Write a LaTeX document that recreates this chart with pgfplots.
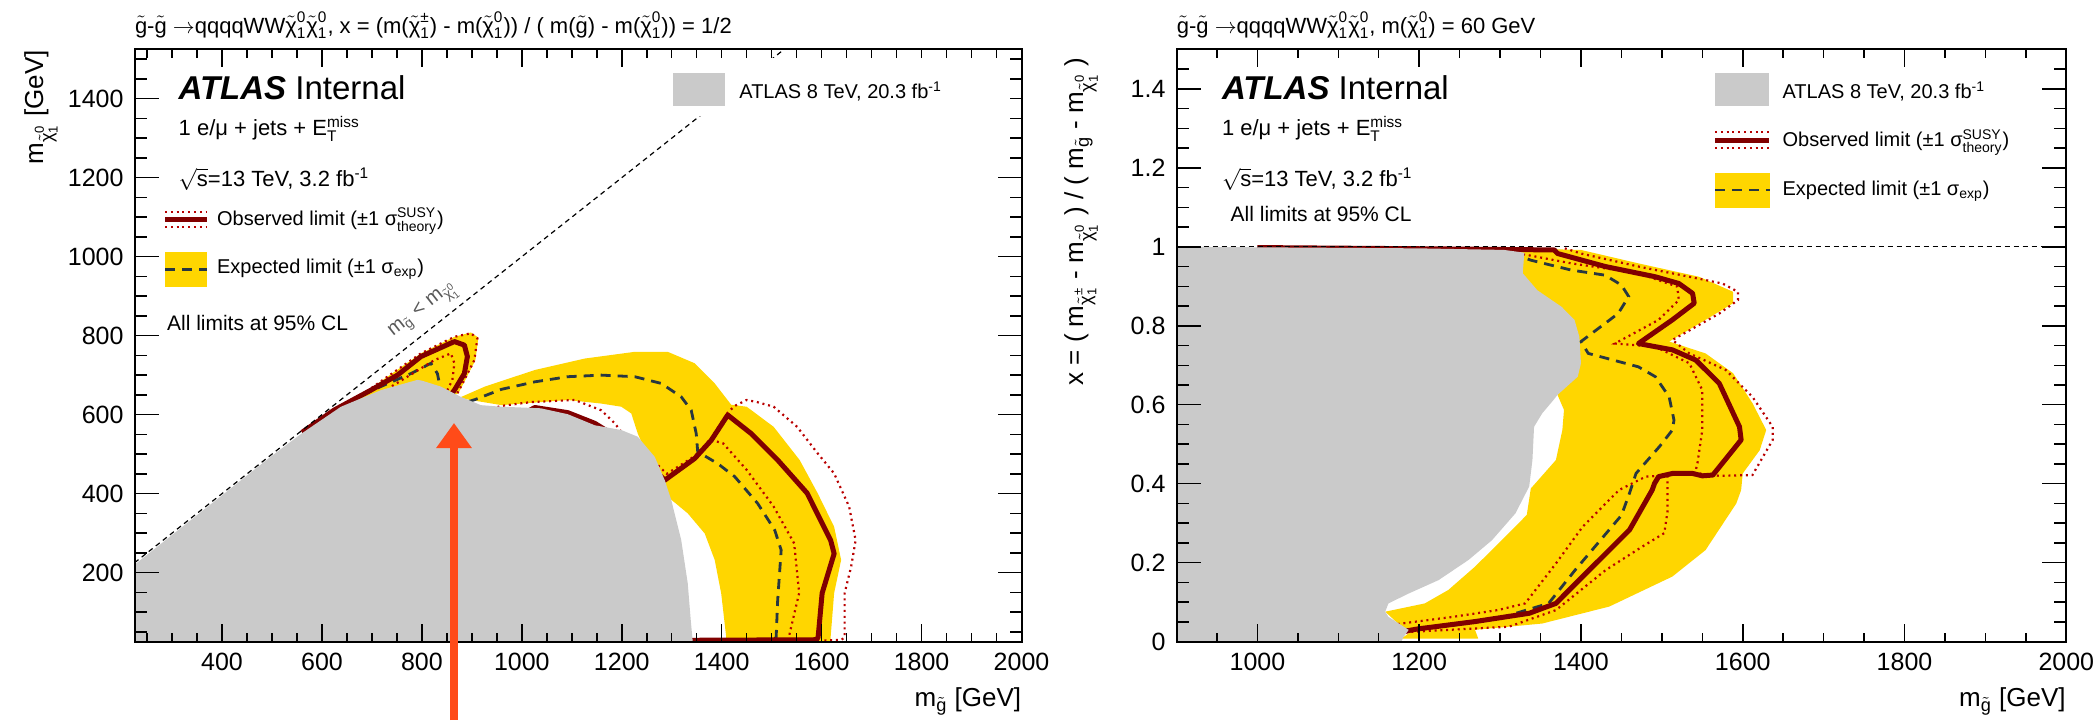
\documentclass[border=0pt]{standalone}
\usepackage{fontspec}
\setmainfont{Liberation Sans}
\usepackage{amsmath}
\usepackage{pgfplots}
\pgfplotsset{compat=1.18}
\usetikzlibrary{arrows.meta}

\definecolor{ygold}{RGB}{255,214,0}
\definecolor{gbox}{RGB}{202,202,202}
\definecolor{obsred}{RGB}{128,0,0}
\definecolor{dotred}{RGB}{185,0,0}
\definecolor{expd}{RGB}{40,55,65}
\definecolor{arrowc}{RGB}{255,75,25}

\newcommand{\gl}{\ensuremath{\tilde{\text{g}}}}
\newcommand{\chiz}{\ensuremath{\tilde{\text{χ}}^{\text{0}}_{\text{1}}}}
\newcommand{\chipm}{\ensuremath{\tilde{\text{χ}}^{\text{±}}_{\text{1}}}}
\newcommand{\mchiz}{m\ensuremath{_{\tilde{\text{χ}}^{\text{0}}_{\text{1}}}}}
\newcommand{\mchipm}{m\ensuremath{_{\tilde{\text{χ}}^{\text{±}}_{\text{1}}}}}
\newcommand{\mgl}{m\ensuremath{_{\tilde{\text{g}}}}}

\tikzset{
  obsl/.style={line width=2.5pt, obsred, line join=round},
  dotl/.style={line width=1.1pt, dotred, dash pattern=on 1pt off 1.9pt},
  expl/.style={line width=1.4pt, expd, dash pattern=on 5pt off 3.5pt},
}
\pgfplotsset{
  myax/.style={scale only axis, anchor=south west, axis on top, no markers,
    tick align=inside,
    major tick length=12pt, minor tick length=6pt,
    xtick style={/pgfplots/major tick length=9pt,/pgfplots/minor tick length=4.5pt},
    tick style={black, line width=0.75pt},
    axis line style={line width=1pt},
    ticklabel style={font=\fontsize{12.5}{14}\selectfont},
    /pgf/number format/assume math mode=true,
    /pgf/number format/1000 sep={},
    xticklabel style={yshift=-2pt},
    yticklabel style={xshift=-2pt},
  }
}

\begin{document}
\begin{tikzpicture}
\useasboundingbox (0,0) rectangle (1048.5pt,360pt);

% ---------------- left panel ----------------
\begin{axis}[myax, at={(67.3pt,39.15pt)}, width=443.45pt, height=296.2pt,
  xmin=225, xmax=2000, ymin=25, ymax=1525,
  xtick={400,600,...,2000}, ytick={200,400,...,1400},
  minor xtick={250,300,...,2000}, minor ytick={50,100,...,1500}]
% expected band
\addplot[fill=ygold, draw=none] coordinates {(600,590) (625,612) (665,637) (731,696) (798,755) (865,797) (898,808) (913,795) (907,738) (887,688) (873,654) (850,640)} -- cycle;
\addplot[fill=ygold, draw=none] coordinates {(860,630) (879,645) (926,671) (1026,713) (1126,742) (1226,759) (1292,759) (1346,730) (1386,679) (1419,625) (1450,620) (1504,569) (1556,485) (1592,401) (1625,316) (1639,232) (1625,148) (1618,37) (1618,25) (1409,25) (1409,37) (1399,147) (1386,232) (1366,299) (1332,350) (1292,392) (1270,450) (1250,500) (1232,552) (1219,603) (1199,620) (1159,628) (1092,637) (959,624) (879,641)} -- cycle;
% expected
\addplot[expl] coordinates {(680,650) (725,675) (778,704) (818,730) (831,704) (835,679) (833,665)};
\addplot[expl] coordinates {(860,620) (906,638) (959,664) (1026,683) (1092,696) (1159,700) (1226,696) (1279,679) (1319,645) (1339,611) (1349,552) (1352,506) (1392,476) (1426,443) (1472,375) (1506,308) (1519,257) (1512,130) (1509,37) (1505,30) (1340,28)};
% observed +-1 sigma
\addplot[dotl] coordinates {(600,592) (631,612) (665,637) (731,696) (798,755) (865,797) (898,806) (911,793) (905,738) (885,688) (871,654) (860,640)};
\addplot[dotl] coordinates {(740,672) (771,696) (825,738) (858,755) (865,730) (861,688) (851,662) (845,650)};
\addplot[dotl] coordinates {(940,615) (959,622) (1020,632) (1106,637) (1159,611) (1186,578) (1200,555) (1250,500) (1290,450) (1346,495) (1379,540) (1412,605) (1426,622) (1450,637) (1470,632) (1504,620) (1551,569) (1592,502) (1625,451) (1655,367) (1668,282) (1659,215) (1646,148) (1646,37) (1640,30) (1600,28)};
\addplot[dotl] coordinates {(1290,440) (1346,492) (1382,535) (1403,527) (1450,460) (1504,367) (1545,274) (1555,148) (1536,46) (1534,30) (1400,28)};
% observed
\addplot[obsl] coordinates {(560,555) (625,612) (698,662) (751,700) (798,747) (865,785) (885,776) (891,747) (885,704) (865,662) (855,645)};
\addplot[obsl] coordinates {(1000,600) (1026,618) (1092,605) (1146,578) (1220,520) (1286,434) (1346,489) (1379,535) (1412,599) (1459,552) (1512,485) (1571,401) (1618,282) (1625,248) (1601,148) (1593,37) (1590,30) (1050,27)};
% ATLAS 8 TeV
\addplot[fill=gbox, draw=none] coordinates {(225,25) (225,220) (494,490) (559,552) (638,620) (718,662) (791,688) (800,686) (838,671) (878,645) (918,624) (959,620) (1038,616) (1092,601) (1146,573) (1199,561) (1232,544) (1266,493) (1286,434) (1299,384) (1319,282) (1332,173) (1338,80) (1342,25)} -- cycle;
% kinematic limit
\addplot[black, line width=0.6pt, dash pattern=on 2.5pt off 2pt] coordinates {(225,225) (1525,1525)};
\end{axis}

% ---------------- right panel ----------------
\begin{axis}[myax, at={(588.25pt,39.15pt)}, width=444.9pt, height=296.2pt,
  xmin=900, xmax=2000, ymin=0, ymax=1.5,
  xtick={1000,1200,...,2000}, ytick={0,0.2,0.4,0.6,0.8,1,1.2,1.4},
  minor xtick={900,950,...,2000},
  minor ytick={0.05,0.1,0.15,0.25,0.3,0.35,0.45,0.5,0.55,0.65,0.7,0.75,0.85,0.9,0.95,1.05,1.1,1.15,1.25,1.3,1.35,1.45}]
\addplot[fill=ygold, draw=none] coordinates {(1320,0.996) (1400,0.992) (1471,0.958) (1546,0.924) (1588,0.886) (1588,0.857) (1554,0.815) (1509,0.760) (1554,0.730) (1588,0.680) (1612,0.604) (1629,0.536) (1621,0.485) (1600,0.426) (1598,0.384) (1592,0.350) (1554,0.232) (1513,0.165) (1435,0.089) (1352,0.046) (1269,0.030) (1273,0.008) (1178,0.008) (1187,0.021) (1158,0.076) (1207,0.097) (1236,0.131) (1269,0.190) (1302,0.257) (1333,0.321) (1338,0.388) (1369,0.460) (1377,0.536) (1379,0.587) (1371,0.625) (1380,0.700) (1320,0.900)} -- cycle;
\addplot[expl] coordinates {(1000,0.997) (1200,0.995) (1305,0.992) (1338,0.966) (1388,0.941) (1430,0.928) (1450,0.903) (1459,0.874) (1446,0.831) (1400,0.760) (1409,0.730) (1471,0.696) (1492,0.671) (1509,0.620) (1515,0.561) (1513,0.536) (1497,0.494) (1468,0.426) (1460,0.376) (1450,0.320) (1431,0.274) (1393,0.182) (1360,0.097) (1305,0.063) (1242,0.042) (1182,0.030) (1143,0.010) (1000,0.003)};
\addplot[dotl] coordinates {(1380,0.996) (1400,0.983) (1471,0.950) (1575,0.907) (1594,0.886) (1594,0.865) (1571,0.831) (1513,0.764) (1534,0.730) (1579,0.688) (1612,0.620) (1637,0.544) (1637,0.511) (1612,0.422) (1571,0.420) (1563,0.422) (1538,0.428) (1513,0.428) (1507,0.420) (1507,0.401) (1507,0.330) (1503,0.275) (1476,0.241) (1431,0.182) (1369,0.080) (1311,0.038) (1190,0.025) (1140,0.010)};
\addplot[dotl] coordinates {(1300,0.990) (1334,0.979) (1388,0.958) (1471,0.933) (1519,0.899) (1521,0.865) (1496,0.815) (1442,0.755) (1492,0.747) (1534,0.705) (1550,0.637) (1550,0.536) (1544,0.452) (1542,0.435) (1540,0.428) (1496,0.420) (1480,0.418) (1447,0.384) (1402,0.291) (1369,0.198) (1331,0.097) (1297,0.080) (1242,0.063) (1174,0.045) (1140,0.020) (1000,0.005)};
\addplot[obsl] coordinates {(1000,0.998) (1200,0.995) (1367,0.992) (1371,0.983) (1430,0.950) (1492,0.924) (1521,0.907) (1538,0.882) (1540,0.857) (1513,0.815) (1471,0.755) (1513,0.739) (1542,0.713) (1571,0.654) (1596,0.544) (1598,0.511) (1563,0.422) (1550,0.420) (1538,0.426) (1513,0.426) (1496,0.418) (1491,0.401) (1488,0.384) (1460,0.283) (1406,0.173) (1369,0.097) (1336,0.072) (1269,0.051) (1197,0.032) (1143,0.012) (1000,0.003)};
\addplot[fill=gbox, draw=none] coordinates {(900,0) (900,1.0) (1200,0.996) (1305,0.992) (1330,0.985) (1328,0.933) (1346,0.890) (1376,0.848) (1392,0.815) (1398,0.772) (1400,0.705) (1396,0.671) (1371,0.625) (1366,0.612) (1352,0.578) (1342,0.544) (1340,0.460) (1336,0.393) (1319,0.325) (1290,0.257) (1261,0.207) (1224,0.156) (1187,0.122) (1162,0.097) (1158,0.076) (1162,0.063) (1187,0.030) (1180,0.010) (1178,0)} -- cycle;
\addplot[black, line width=0.6pt, dash pattern=on 2.5pt off 2pt] coordinates {(900,1) (2000,1)};
\end{axis}

% ---------------- texts and legends (pixel units) ----------------
\begin{scope}[x=0.5pt, y=-0.5pt, shift={(0pt,360pt)}]
\def\fs{\fontsize{11}{13}\selectfont}
\def\fl{\fontsize{10}{12}\selectfont}
% titles
\node[anchor=base west, inner sep=0, font=\fs] at (134.6,33.3) {\gl-\gl\ $\rightarrow$qqqqWW\chiz\chiz, x = (m(\chipm) - m(\chiz)) / ( m(\gl) - m(\chiz)) = 1/2};
\node[anchor=base west, inner sep=0, font=\fs] at (1176.5,33.3) {\gl-\gl\ $\rightarrow$qqqqWW\chiz\chiz, m(\chiz) = 60 GeV};
% axis titles
\node[anchor=base east, inner sep=0, rotate=90, font=\fontsize{13}{15}\selectfont] at (43,50) {\mchiz\ [GeV]};
\node[anchor=base east, inner sep=0, font=\fontsize{13}{15}\selectfont] at (1021.5,706) {\mgl\ [GeV]};
\node[anchor=base east, inner sep=0, rotate=90, font=\fontsize{13}{15}\selectfont] at (1083,57) {x = ( \mchipm\ - \mchiz\ ) / ( \mgl\ - \mchiz\ )};
\node[anchor=base east, inner sep=0, font=\fontsize{13}{15}\selectfont] at (2066,706) {\mgl\ [GeV]};

% left panel text
\fill[white] (660,58) rectangle (1010,116);
\fill[gbox] (673,72.7) rectangle (725.4,106);
\node[anchor=base west, inner sep=0, font=\fl] at (739,98.3) {ATLAS 8 TeV, 20.3 fb$^{\text{-1}}$};
\node[anchor=base west, inner sep=0, font=\fontsize{16.5}{18}\selectfont] at (178.3,99.3) {\textbf{\textit{ATLAS}} Internal};
\node[anchor=base west, inner sep=0, font=\fs] at (178.3,135) {1 e/μ + jets + E$^{\text{miss}}_{\text{T}}$};
\node[anchor=base west, inner sep=0, font=\fs] at (178.3,186.7) {$\sqrt{\text{s}}$=13 TeV, 3.2 fb$^{\text{-1}}$};
\draw[dotl] (165,211.7) -- (207,211.7);
\draw[obsl, line cap=butt] (165,219) -- (207,219);
\draw[dotl] (165,226.7) -- (207,226.7);
\node[anchor=base west, inner sep=0, font=\fl] at (216.7,225) {Observed limit (±1 σ$^{\text{SUSY}}_{\text{theory}}$)};
\fill[ygold] (165,251.7) rectangle (207.3,287.3);
\draw[expl] (165,269.3) -- (207.3,269.3);
\node[anchor=base west, inner sep=0, font=\fl] at (216.7,273.3) {Expected limit (±1 σ$_{\text{exp}}$)};
\node[anchor=base west, inner sep=0, font=\fontsize{10.5}{12}\selectfont] at (166.7,330.7) {All limits at 95\% CL};
\node[rotate=38.3, inner sep=0, text=black!65, font=\fontsize{10}{12}\selectfont] at (424,311) {m$_{\tilde{\text{g}}}$ < \mchiz};

% arrow
\draw[arrowc, line width=4pt, -{Triangle[width=17pt,length=12.5pt]}] (454,720) -- (454,423);

% right panel text
\fill[gbox] (1715,72.7) rectangle (1768.7,106);
\node[anchor=base west, inner sep=0, font=\fl] at (1782.2,98.3) {ATLAS 8 TeV, 20.3 fb$^{\text{-1}}$};
\node[anchor=base west, inner sep=0, font=\fontsize{16.5}{18}\selectfont] at (1221.6,99.3) {\textbf{\textit{ATLAS}} Internal};
\node[anchor=base west, inner sep=0, font=\fs] at (1221.6,135) {1 e/μ + jets + E$^{\text{miss}}_{\text{T}}$};
\node[anchor=base west, inner sep=0, font=\fs] at (1221.6,186.7) {$\sqrt{\text{s}}$=13 TeV, 3.2 fb$^{\text{-1}}$};
\node[anchor=base west, inner sep=0, font=\fontsize{10.5}{12}\selectfont] at (1230.3,221.7) {All limits at 95\% CL};
\draw[dotl] (1715,132.3) -- (1768.7,132.3);
\draw[obsl, line cap=butt] (1715,140) -- (1768.7,140);
\draw[dotl] (1715,147.7) -- (1768.7,147.7);
\node[anchor=base west, inner sep=0, font=\fl] at (1782.2,146.7) {Observed limit (±1 σ$^{\text{SUSY}}_{\text{theory}}$)};
\fill[ygold] (1715,172.7) rectangle (1770,208.3);
\draw[expl] (1715,190) -- (1770,190);
\node[anchor=base west, inner sep=0, font=\fl] at (1782.2,195) {Expected limit (±1 σ$_{\text{exp}}$)};
\end{scope}
\end{tikzpicture}
\end{document}
